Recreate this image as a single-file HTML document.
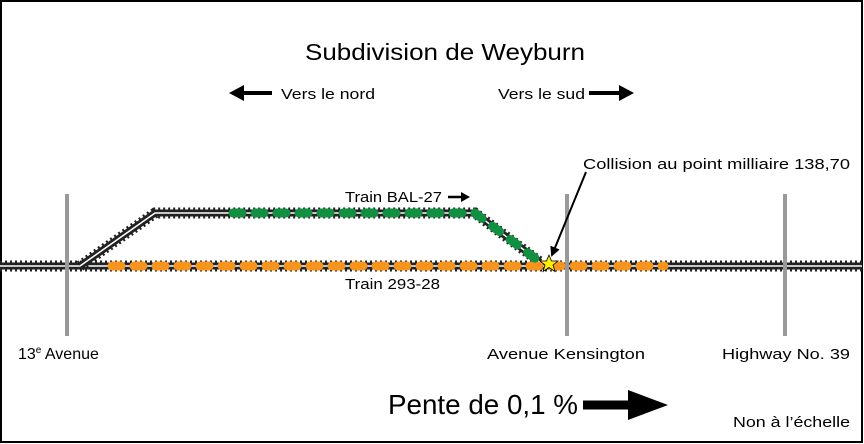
<!DOCTYPE html>
<html><head><meta charset="utf-8"><style>
html,body{margin:0;padding:0;background:#fff}
svg{display:block}
text{font-family:"Liberation Sans",sans-serif;fill:#000}
</style></head><body>
<svg width="864" height="444" viewBox="0 0 864 444" xmlns="http://www.w3.org/2000/svg">
<rect x="1" y="1" width="861" height="441" fill="#fff" stroke="#000" stroke-width="2"/>
<defs>
<marker id="ah" markerWidth="10" markerHeight="10" refX="8" refY="5" orient="auto" markerUnits="userSpaceOnUse">
<path d="M0,0 L10,5 L0,10 Z" fill="#000"/></marker>
</defs>
<!-- tracks -->
<g fill="none">
<path d="M0,266 L862,266" stroke="#222" stroke-width="11" stroke-dasharray="2,3"/>
<path d="M0,266 L862,266" stroke="#222" stroke-width="7"/>
<path d="M0,266 L862,266" stroke="#fff" stroke-width="1.5"/>
<path d="M80,266 L155,213 L475,213 L540,262" stroke="#222" stroke-width="11" stroke-dasharray="2,3"/>
<path d="M80,266 L155,213 L475,213 L540,262" stroke="#222" stroke-width="7"/>
<path d="M80,266 L155,213 L475,213 L540,262" stroke="#fff" stroke-width="1.5"/>
</g>
<!-- cars -->
<path d="M112,266 L664,266" stroke="#f7941d" stroke-width="9" stroke-linecap="round" stroke-dasharray="9,13" fill="none"/>
<path d="M233,213 L475,213 L540,262" stroke="#109040" stroke-width="9" stroke-linecap="round" stroke-dasharray="9,13" fill="none"/>
<!-- poles -->
<g stroke="#999" stroke-width="4">
<line x1="67" y1="194" x2="67" y2="336"/>
<line x1="567" y1="194" x2="567" y2="336"/>
<line x1="785" y1="194" x2="785" y2="336"/>
</g>
<!-- star -->
<polygon points="549,255 551.5,261 558,261 553,265 555,271.5 549,267.5 543,271.5 545,265 540,261 546.5,261" fill="#ffef00" stroke="#000" stroke-width="0.8"/>
<!-- collision arrow -->
<line x1="586" y1="172" x2="552" y2="255" stroke="#000" stroke-width="2" marker-end="url(#ah)"/>
<!-- direction arrows -->
<line x1="243" y1="93" x2="272" y2="93" stroke="#000" stroke-width="4"/>
<polygon points="229,93 244,85 244,101" fill="#000"/>
<line x1="589" y1="93" x2="620" y2="93" stroke="#000" stroke-width="4"/>
<polygon points="634,93 619,85 619,101" fill="#000"/>
<line x1="448" y1="197" x2="462" y2="197" stroke="#000" stroke-width="2.5"/>
<polygon points="470,197 461,192 461,202" fill="#000"/>
<!-- labels -->
<text x="305" y="60" font-size="23" textLength="280" lengthAdjust="spacingAndGlyphs">Subdivision de Weyburn</text>
<text x="281" y="99" font-size="15" textLength="94" lengthAdjust="spacingAndGlyphs">Vers le nord</text>
<text x="498" y="99" font-size="15" textLength="87" lengthAdjust="spacingAndGlyphs">Vers le sud</text>
<text x="345" y="202" font-size="15" textLength="97" lengthAdjust="spacingAndGlyphs">Train BAL-27</text>
<text x="345" y="289" font-size="15" textLength="95" lengthAdjust="spacingAndGlyphs">Train 293-28</text>
<text x="583" y="169" font-size="15" textLength="267" lengthAdjust="spacingAndGlyphs">Collision au point milliaire 138,70</text>
<text x="18" y="359" font-size="16">13<tspan font-size="10" dy="-6">e</tspan><tspan dy="6"> Avenue</tspan></text>
<text x="487" y="359" font-size="15" textLength="158" lengthAdjust="spacingAndGlyphs">Avenue Kensington</text>
<text x="722" y="359" font-size="15" textLength="128" lengthAdjust="spacingAndGlyphs">Highway No. 39</text>
<text x="388" y="414" font-size="28" textLength="190" lengthAdjust="spacingAndGlyphs">Pente de 0,1 %</text>
<text x="733" y="427" font-size="15" textLength="117" lengthAdjust="spacingAndGlyphs">Non à l’échelle</text>
<!-- slope arrow -->
<line x1="583" y1="405" x2="630" y2="405" stroke="#000" stroke-width="9"/>
<polygon points="668,405 628,390 628,420" fill="#000"/>
</svg>
</body></html>
